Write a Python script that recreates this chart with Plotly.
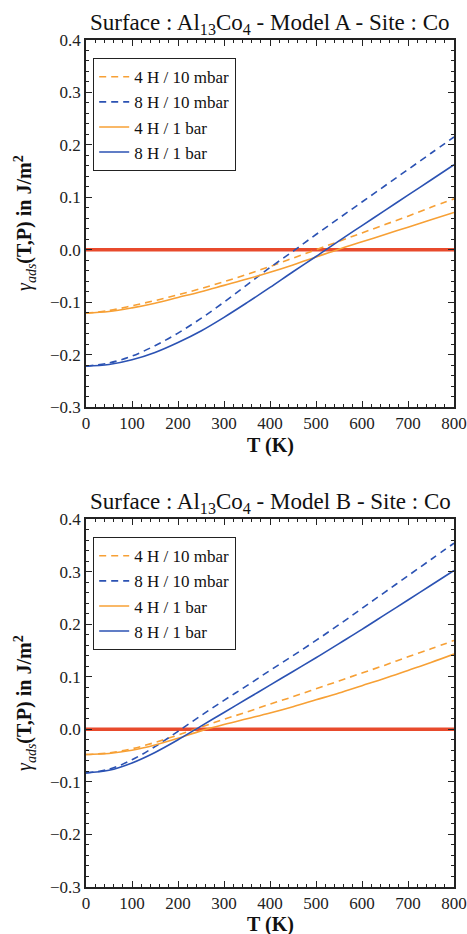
import plotly.graph_objects as go

T = [0, 50, 100, 150, 200, 250, 300, 350, 400, 450, 500, 550, 600, 650, 700, 750, 800]

# Panel A : Model A
a_4h_10mbar = [-0.121, -0.116, -0.107, -0.097, -0.086, -0.074, -0.061, -0.047, -0.032, -0.016, 0.000,
               0.016, 0.032, 0.048, 0.064, 0.081, 0.097]
a_8h_10mbar = [-0.222, -0.216, -0.203, -0.183, -0.159, -0.131, -0.100, -0.067, -0.034, -0.003, 0.029,
               0.060, 0.091, 0.122, 0.153, 0.184, 0.215]
a_4h_1bar = [-0.121, -0.118, -0.111, -0.102, -0.091, -0.080, -0.068, -0.056, -0.043, -0.029, -0.014,
             0.001, 0.015, 0.029, 0.043, 0.057, 0.071]
a_8h_1bar = [-0.222, -0.219, -0.210, -0.196, -0.177, -0.155, -0.129, -0.101, -0.072, -0.042, -0.013,
             0.017, 0.046, 0.075, 0.104, 0.133, 0.162]

# Panel B : Model B
b_4h_10mbar = [-0.048, -0.045, -0.037, -0.025, -0.011, 0.004, 0.019, 0.033, 0.048, 0.062, 0.077,
               0.092, 0.107, 0.122, 0.138, 0.153, 0.169]
b_8h_10mbar = [-0.083, -0.076, -0.058, -0.033, -0.004, 0.026, 0.055, 0.083, 0.112, 0.140, 0.169,
               0.199, 0.230, 0.261, 0.292, 0.323, 0.354]
b_4h_1bar = [-0.048, -0.046, -0.040, -0.030, -0.017, -0.003, 0.009, 0.020, 0.031, 0.043, 0.056,
             0.069, 0.083, 0.097, 0.112, 0.127, 0.143]
b_8h_1bar = [-0.083, -0.078, -0.064, -0.044, -0.020, 0.006, 0.032, 0.058, 0.084, 0.110, 0.136,
             0.163, 0.190, 0.218, 0.246, 0.274, 0.302]

zero_T = [0, 800]
zero_y = [0, 0]

labels = ["4 H / 10 mbar", "8 H / 10 mbar", "4 H / 1 bar", "8 H / 1 bar"]
titles = ["Surface : Al<sub>13</sub>Co<sub>4</sub> - Model A - Site : Co",
          "Surface : Al<sub>13</sub>Co<sub>4</sub> - Model B - Site : Co"]
x_title = "<b>T (K)</b>"
y_title = "<i>γ<sub>ads</sub></i><b>(T,P) in J/m<sup>2</sup></b>"

ORANGE = "#f7a035"
BLUE = "#2b52b3"
RED = "#e84a2c"
FONT = "Liberation Serif"

fig = go.Figure()

panels = [
    ("x", "y", "legend", [a_4h_10mbar, a_8h_10mbar, a_4h_1bar, a_8h_1bar]),
    ("x2", "y2", "legend2", [b_4h_10mbar, b_8h_10mbar, b_4h_1bar, b_8h_1bar]),
]
styles = [(ORANGE, "7px,5px"), (BLUE, "7px,5px"), (ORANGE, "solid"), (BLUE, "solid")]

for xa, ya, leg, series in panels:
    fig.add_trace(go.Scatter(x=zero_T, y=zero_y, mode="lines", xaxis=xa, yaxis=ya,
                             line=dict(color=RED, width=3.6), showlegend=False, hoverinfo="skip"))
    for name, vals, (col, dash) in zip(labels, series, styles):
        fig.add_trace(go.Scatter(x=T, y=vals, mode="lines", name=name, xaxis=xa, yaxis=ya,
                                 legend=leg, line=dict(color=col, width=1.6, dash=dash, shape="spline")))

H = 934.0
W = 467.0
L, R = 86.0, 13.0
PW = W - L - R
domA = [1 - 407 / H, 1 - 40 / H]
domB = [1 - 887 / H, 1 - 519 / H]

def xaxis(anchor):
    return dict(anchor=anchor, range=[0, 800], dtick=100, tick0=0, ticks="inside", ticklen=6,
                tickwidth=1, tickcolor="#222", showline=True, linecolor="#222", linewidth=1.5,
                mirror="ticks", showgrid=False, zeroline=False, automargin=False,
                minor=dict(dtick=20, ticks="inside", ticklen=3, tickcolor="#222", showgrid=False),
                tickfont=dict(family=FONT, size=17, color="#222"))

def yaxis(anchor, dom):
    return dict(anchor=anchor, domain=dom, range=[-0.3, 0.4], dtick=0.1, tick0=0, tickformat=".1f",
                ticks="inside", ticklen=6, tickwidth=1, tickcolor="#222", showline=True,
                linecolor="#222", linewidth=1.5, mirror="ticks", showgrid=False, zeroline=False,
                automargin=False,
                minor=dict(dtick=0.02, ticks="inside", ticklen=3, tickcolor="#222", showgrid=False),
                tickfont=dict(family=FONT, size=17, color="#222"))

legend_common = dict(bgcolor="white", bordercolor="#222", borderwidth=1.2,
                     font=dict(family=FONT, size=17, color="#111"), xanchor="left", yanchor="top",
                     itemwidth=30, tracegroupgap=0)

annotations = []
for dom, ttl in zip([domA, domB], titles):
    annotations.append(dict(text=ttl, x=0.5, xref="paper", y=dom[1], yref="paper", yanchor="bottom",
                            showarrow=False, font=dict(family=FONT, size=23, color="#111")))
for xc_y in [445, 924]:
    annotations.append(dict(text=x_title, x=0.5, xref="paper", y=1 - xc_y / H, yref="paper",
                            yanchor="middle", showarrow=False,
                            font=dict(family=FONT, size=20, color="#111")))
for yc in [223, 703]:
    annotations.append(dict(text=y_title, x=(25 - L) / PW, xref="paper", y=1 - yc / H, yref="paper",
                            xanchor="center", yanchor="middle", textangle=-90, showarrow=False,
                            font=dict(family=FONT, size=20, color="#111")))

fig.update_layout(
    width=467, height=934,
    margin=dict(l=L, r=R, t=0, b=0, autoexpand=False),
    paper_bgcolor="white", plot_bgcolor="white",
    xaxis=xaxis("y"), yaxis=yaxis("x", domA),
    xaxis2=xaxis("y2"), yaxis2=yaxis("x2", domB),
    legend=dict(x=0.019, y=1 - 58 / H, **legend_common),
    legend2=dict(x=0.019, y=1 - 537 / H, **legend_common),
    annotations=annotations,
)

fig.write_html("out.html", config={"displayModeBar": False},
               post_script="document.body.style.margin='0';document.body.style.overflow='hidden';")
